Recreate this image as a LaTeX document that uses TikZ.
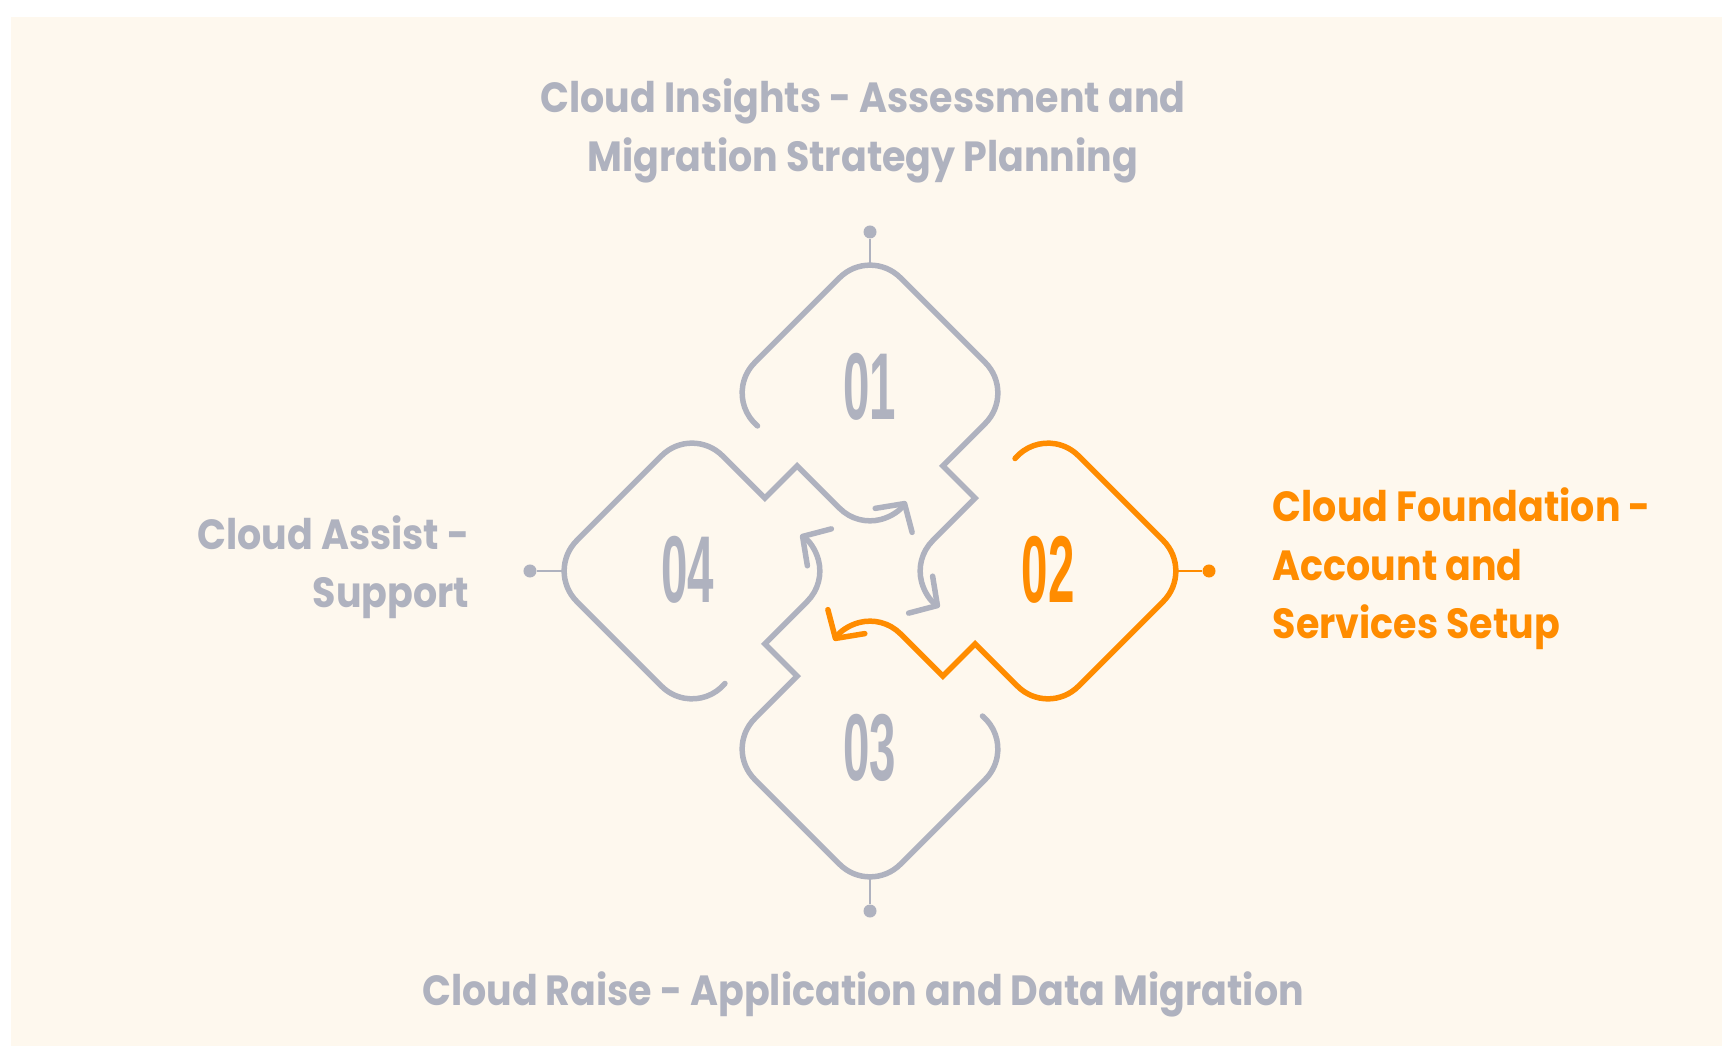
\documentclass[tikz,border=0pt]{standalone}
\usepackage{fontspec}
\usepackage{graphicx}
\setmainfont{Poppins}[FakeStretch=0.9]
\newfontfamily\numfont{Liberation Sans}
\usetikzlibrary{arrows.meta}

\definecolor{cream}{HTML}{FEF8EE}
\definecolor{slate}{HTML}{AFB2BF}
\definecolor{amber}{HTML}{FF8C00}

\tikzset{
  loopline/.style={line width=0.055cm, line cap=round, -{Straight Barb[length=0.2cm,width=0.44cm,round]}},
  stem/.style={line width=0.028cm},
  tipdot/.style={circle, fill, inner sep=0pt, minimum size=0.13cm},
  numtext/.style={font=\numfont\bfseries\fontsize{27}{27}\selectfont, inner sep=0pt},
  steptext/.style={font=\bfseries\fontsize{12}{16.6}\selectfont, inner sep=0pt}
}

% one loop: outer corners of a box, jog, and the arrow round the next box
\newcommand{\looppath}{(-112.49,145.06) arc[start angle=230, end angle=135, radius=43]
  -- (-30.41,293.26) arc[start angle=135, end angle=45, radius=43]
  -- (115.26,208.41) arc[start angle=45, end angle=-45, radius=43]
  -- (72.83,105.17) -- (105.17,72.83)
  -- (62.74,30.41) arc[start angle=135, end angle=237, radius=43]}

\begin{document}
\begin{tikzpicture}[x=0.01cm, y=0.01cm]

  \useasboundingbox (-870,-475) rectangle (852,571);
  \fill[white] (-870,-475) rectangle (852,571);
  \fill[cream] (-859,-475) rectangle (852,554);

  % loops
  \draw[loopline, slate] \looppath;
  \draw[loopline, slate, rotate=-180] \looppath;
  \draw[loopline, slate, rotate=-270] \looppath;
  \draw[loopline, amber, rotate=-90] \looppath;

  % numbers
  \node[numtext, text=slate] (n1) at (0,184) {\scalebox{0.5}[1]{01}};
  \node[numtext, text=amber] (n2) at (178,1) {\scalebox{0.5}[1]{02}};
  \node[numtext, text=slate] (n3) at (0,-177) {\scalebox{0.5}[1]{03}};
  \node[numtext, text=slate] (n4) at (-182,1) {\scalebox{0.5}[1]{04}};

  % stems
  \coordinate (a1) at (0,305.85);
  \coordinate (a2) at (305.85,0);
  \coordinate (a3) at (0,-305.85);
  \coordinate (a4) at (-305.85,0);
  \node[tipdot, slate] (d1) at (0,339) {};
  \node[tipdot, amber] (d2) at (339,0) {};
  \node[tipdot, slate] (d3) at (0,-340) {};
  \node[tipdot, slate] (d4) at (-340,0) {};
  \draw[stem, slate] (a1) -- (d1);
  \draw[stem, amber] (a2) -- (d2);
  \draw[stem, slate] (a3) -- (d3);
  \draw[stem, slate] (a4) -- (d4);

  % labels
  \node[steptext, text=slate, align=center] (l1) at (-7,440) {Cloud Insights - Assessment and\\Migration Strategy Planning};
  \node[steptext, text=amber, align=left, anchor=west] (l2) at (402,2) {Cloud Foundation -\\Account and\\Services Setup};
  \node[steptext, text=slate, anchor=base] (l3) at (-7,-434) {Cloud Raise - Application and Data Migration};
  \node[steptext, text=slate, align=right, anchor=east] (l4) at (-400,4) {Cloud Assist -\\Support};

\end{tikzpicture}
\end{document}
